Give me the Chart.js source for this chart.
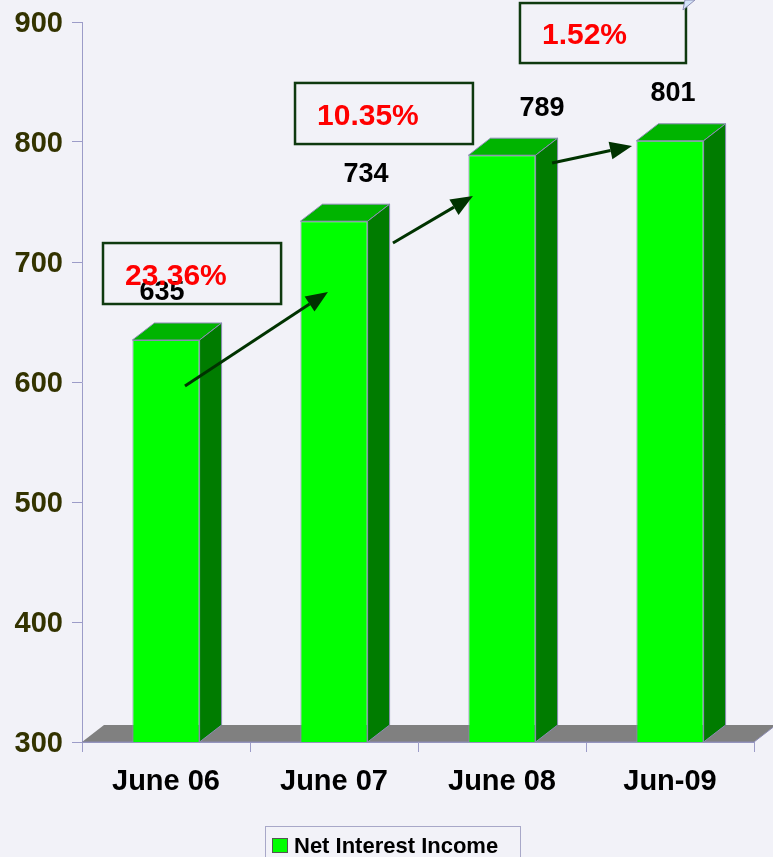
<!DOCTYPE html>
<html>
<head>
<meta charset="utf-8">
<script src="https://cdn.jsdelivr.net/npm/chart.js@4/dist/chart.umd.min.js"></script>
<style>
  html, body { margin: 0; padding: 0; background: #f2f2f8; }
  #wrap { width: 773px; height: 857px; position: relative; }
</style>
</head>
<body>
<div id="wrap"><canvas id="c"></canvas></div>
<script>
// data
const categories = ['June 06', 'June 07', 'June 08', 'Jun-09'];
const netInterestIncome = [635, 734, 789, 801];
const growthLabels = ['23.36%', '10.35%', '1.52%'];
const yTicks = [300, 400, 500, 600, 700, 800, 900];
const seriesName = 'Net Interest Income';

const DX = 22, DY = 17;        // depth of the 3d effect
const EDGE = '#8c8cb4';
const AXIS = '#9c9cc8';

// callouts, placed in chart units (category index, value)
const callouts = [
    { box: [-0.375, 0.685, 715.8, 665], arrow: [0.113, 596.7, 0.964, 675] },
    { box: [0.768, 1.827, 849.2, 798.3], arrow: [1.351, 715.8, 1.827, 755] },
    { box: [2.107, 3.095, 915.8, 865.8], arrow: [2.298, 782.5, 2.774, 796.7] }
];
const labelShift = [-4, 32, 40, 3];

const threeD = {
    id: 'threeD',
    beforeDatasetsDraw(chart) {
        // grey floor
        const { ctx, chartArea: a } = chart;
        ctx.save();
        ctx.beginPath();
        ctx.moveTo(a.left, a.bottom);
        ctx.lineTo(a.left + DX, a.bottom - DY);
        ctx.lineTo(a.right + DX, a.bottom - DY);
        ctx.lineTo(a.right, a.bottom);
        ctx.closePath();
        ctx.fillStyle = '#808080';
        ctx.fill();
        ctx.strokeStyle = EDGE;
        ctx.lineWidth = 1;
        ctx.beginPath();
        ctx.moveTo(a.left, a.bottom);
        ctx.lineTo(a.right, a.bottom);
        ctx.lineTo(a.right + DX, a.bottom - DY);
        ctx.stroke();
        ctx.restore();
    },
    afterDatasetsDraw(chart) {
        const { ctx, chartArea } = chart;
        const meta = chart.getDatasetMeta(0);
        ctx.save();
        ctx.lineWidth = 1;
        ctx.strokeStyle = EDGE;
        meta.data.forEach(bar => {
            const l = bar.x - bar.width / 2, r = bar.x + bar.width / 2;
            const t = bar.y, b = Math.min(bar.base, chartArea.bottom);
            // top face
            ctx.beginPath();
            ctx.moveTo(l, t);
            ctx.lineTo(l + DX, t - DY);
            ctx.lineTo(r + DX, t - DY);
            ctx.lineTo(r, t);
            ctx.closePath();
            ctx.fillStyle = '#00b400';
            ctx.fill();
            ctx.stroke();
            // side face
            ctx.beginPath();
            ctx.moveTo(r, t);
            ctx.lineTo(r + DX, t - DY);
            ctx.lineTo(r + DX, b - DY);
            ctx.lineTo(r, b);
            ctx.closePath();
            ctx.fillStyle = '#007c00';
            ctx.fill();
            ctx.stroke();
        });
        ctx.restore();
    }
};

const annotations = {
    id: 'annotations',
    afterDraw(chart) {
        const { ctx, scales: { x, y } } = chart;
        const x0 = x.getPixelForValue(0);
        const step = x.getPixelForValue(1) - x0;
        const px = v => x0 + v * step;
        ctx.save();

        // value labels
        ctx.font = 'bold 27px "Liberation Sans", Arial, sans-serif';
        ctx.fillStyle = '#000';
        ctx.textAlign = 'center';
        ctx.textBaseline = 'middle';
        chart.getDatasetMeta(0).data.forEach((bar, i) => {
            ctx.fillText(String(netInterestIncome[i]), bar.x + labelShift[i], y.getPixelForValue(netInterestIncome[i]) - 47);
        });

        // growth boxes and arrows
        callouts.forEach((c, i) => {
            const [bx1, bx2, by1, by2] = c.box;
            const L = px(bx1), R = px(bx2), T = y.getPixelForValue(by1), B = y.getPixelForValue(by2);
            ctx.strokeStyle = '#0f3a0f';
            ctx.lineWidth = 2.5;
            ctx.strokeRect(L, T, R - L, B - T);
            ctx.font = 'bold 30px "Liberation Sans", Arial, sans-serif';
            ctx.fillStyle = '#ff0000';
            ctx.textAlign = 'left';
            ctx.fillText(growthLabels[i], L + 22, (T + B) / 2 + 3);

            const [ax1, av1, ax2, av2] = c.arrow;
            const sx = px(ax1), sy = y.getPixelForValue(av1);
            const ex = px(ax2), ey = y.getPixelForValue(av2);
            const ang = Math.atan2(ey - sy, ex - sx);
            const hl = 22, hw = 9;
            const bxp = ex - hl * Math.cos(ang), byp = ey - hl * Math.sin(ang);
            ctx.strokeStyle = '#003300';
            ctx.fillStyle = '#003300';
            ctx.lineWidth = 3;
            ctx.beginPath();
            ctx.moveTo(sx, sy);
            ctx.lineTo(bxp, byp);
            ctx.stroke();
            ctx.beginPath();
            ctx.moveTo(ex, ey);
            ctx.lineTo(bxp + hw * Math.sin(ang), byp - hw * Math.cos(ang));
            ctx.lineTo(bxp - hw * Math.sin(ang), byp + hw * Math.cos(ang));
            ctx.closePath();
            ctx.fill();
        });

        // bit of a callout shape cut off at the top
        const tipX = px(3.095);
        ctx.beginPath();
        ctx.moveTo(tipX - 3, 10);
        ctx.lineTo(tipX + 9, 0);
        ctx.lineTo(tipX - 1, 0);
        ctx.closePath();
        ctx.fillStyle = '#d4e4f8';
        ctx.fill();
        ctx.strokeStyle = '#8c8cb4';
        ctx.lineWidth = 1;
        ctx.stroke();

        // legend
        const ds = chart.data.datasets[0];
        ctx.strokeStyle = '#a8a8c8';
        ctx.lineWidth = 1;
        ctx.strokeRect(265.5, 826.5, 255, 40);
        ctx.fillStyle = ds.backgroundColor;
        ctx.fillRect(272, 838, 16, 15);
        ctx.strokeStyle = '#555';
        ctx.strokeRect(272.5, 838.5, 15, 14);
        ctx.font = 'bold 22px "Liberation Sans", Arial, sans-serif';
        ctx.fillStyle = '#000';
        ctx.textAlign = 'left';
        ctx.fillText(ds.label, 294, 847);
        ctx.restore();
    }
};

new Chart(document.getElementById('c'), {
    type: 'bar',
    data: {
        labels: categories,
        datasets: [{
            label: seriesName,
            data: netInterestIncome,
            backgroundColor: '#00ff00',
            borderColor: EDGE,
            borderWidth: 1,
            barPercentage: 0.4,
            categoryPercentage: 1
        }]
    },
    options: {
        responsive: true,
        maintainAspectRatio: false,
        animation: false,
        layout: { padding: { top: 22, right: 19, left: 0, bottom: 0 } },
        plugins: { legend: { display: false }, tooltip: { enabled: false } },
        scales: {
            x: {
                grid: { drawOnChartArea: false, tickLength: 10, color: AXIS },
                border: { color: AXIS },
                ticks: {
                    font: { family: '"Liberation Sans", Arial, sans-serif', size: 29, weight: 'bold' },
                    color: '#000',
                    padding: 13,
                    maxRotation: 0
                },
                afterFit: s => { s.height = 115; }
            },
            y: {
                min: 300,
                max: 900,
                afterBuildTicks: s => { s.ticks = yTicks.map(v => ({ value: v })); },
                grid: { drawOnChartArea: false, tickLength: 10, color: AXIS },
                border: { color: AXIS },
                ticks: {
                    font: { family: '"Liberation Sans", Arial, sans-serif', size: 29, weight: 'bold', lineHeight: 0.8 },
                    color: '#333300',
                    padding: 9,
                    labelOffset: 2
                },
                afterFit: s => { s.width = 82; }
            }
        }
    },
    plugins: [threeD, annotations]
});
</script>
</body>
</html>
